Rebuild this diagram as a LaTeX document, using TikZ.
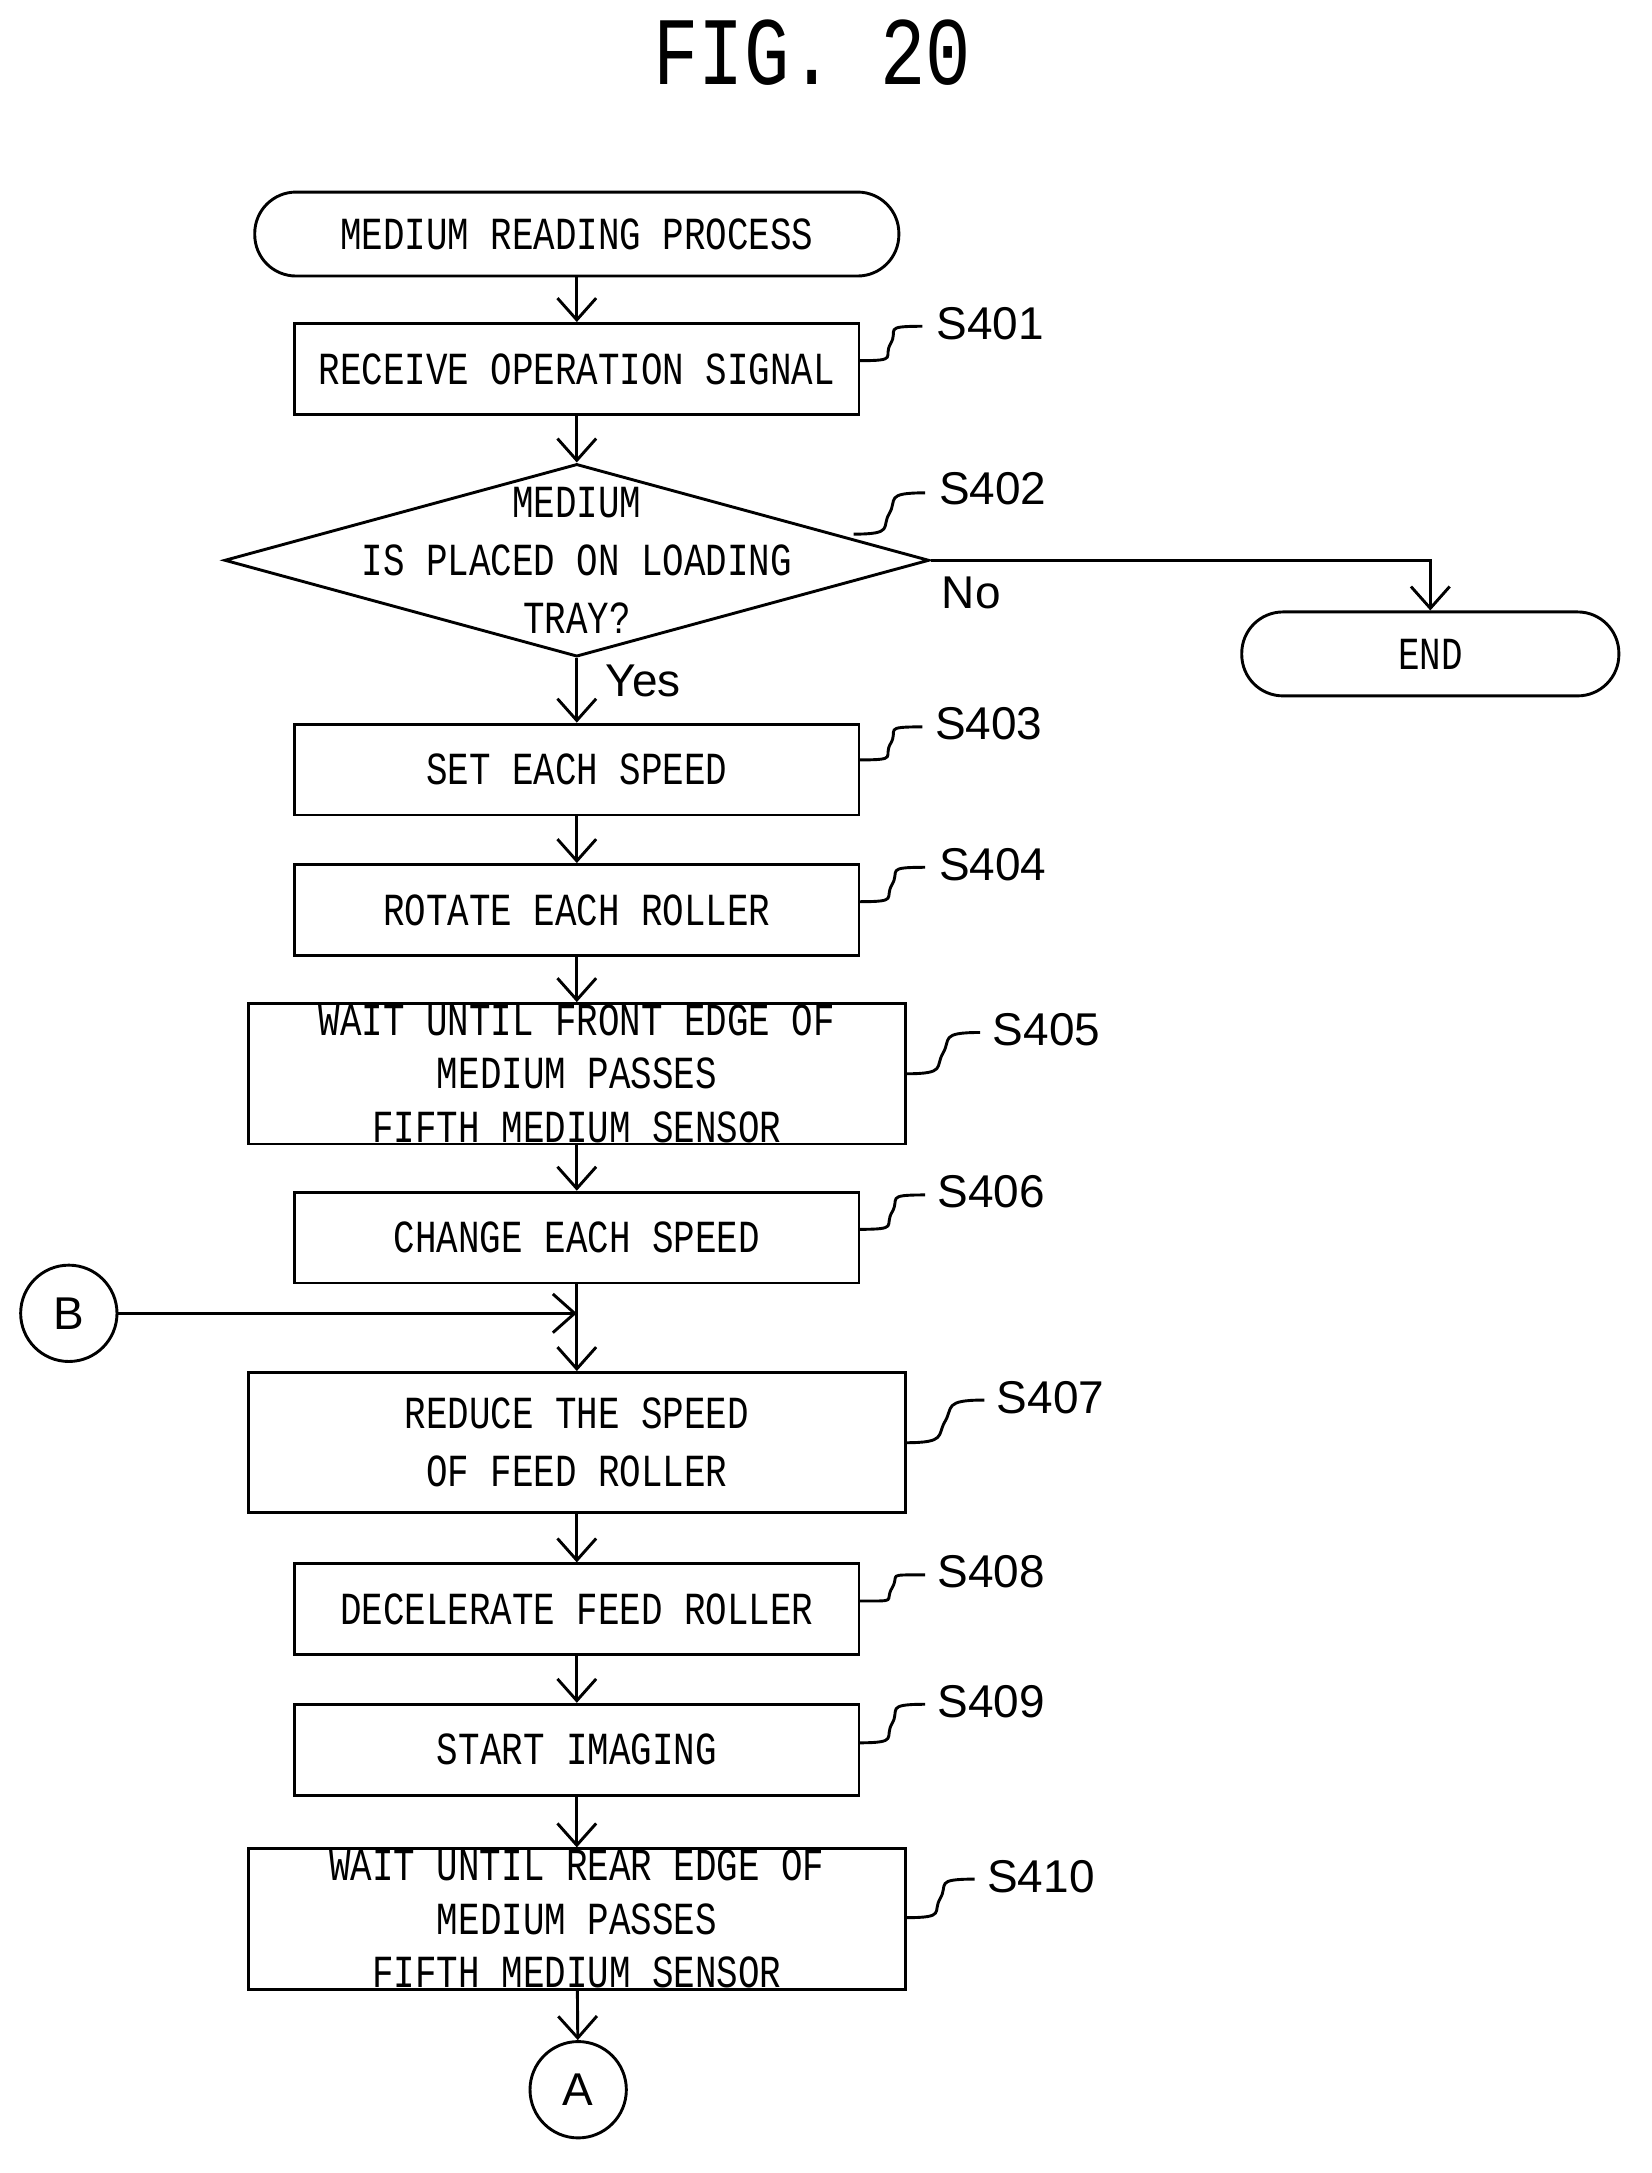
\documentclass[tikz,border=0pt]{standalone}
\usepackage{fontspec}
\setmainfont{Liberation Sans}
\newfontfamily\boxfont{Liberation Mono}[FakeStretch=0.78]
\usetikzlibrary{arrows.meta,shapes.geometric}

\tikzset{
  procbox/.style={draw,line width=1.2pt,minimum width=8.2cm,minimum height=1.32cm,inner sep=0pt,
    font=\boxfont\fontsize{19}{22}\selectfont,align=center},
  widebox/.style={procbox,minimum width=9.54cm,minimum height=2.04cm},
  term/.style={draw,line width=1.2pt,rounded corners=0.6cm,minimum height=1.22cm,
    font=\boxfont\fontsize{19}{20}\selectfont},
  conn/.style={draw,circle,line width=1.2pt,minimum size=1.4cm,inner sep=0pt,font=\fontsize{19}{20}\selectfont},
  flow/.style={line width=1.2pt,-{Straight Barb[length=9pt,width=16pt,line width=1.2pt]}},
  lab/.style={font=\fontsize{19}{20}\selectfont,anchor=west},
}
\newcommand{\squig}[2]{\draw[line width=1.2pt] #1 .. controls +(30,0) and +(-6,10) .. ($#1!0.5!#2$)
  .. controls +(6,-10) and +(-30,0) .. #2;}
\usetikzlibrary{calc}

\begin{document}
\begin{tikzpicture}[x=0.02cm,y=-0.02cm]
\useasboundingbox (0,0) rectangle (1200,1578.5);

\node[font=\boxfont\fontsize{40}{40}\selectfont] at (590,38) {FIG. 20};

\node[term,minimum width=9.36cm] (start) at (419,170) {MEDIUM READING PROCESS};
\node[procbox] (s401) at (419,268) {RECEIVE OPERATION SIGNAL};
\node[draw,diamond,line width=1.2pt,minimum width=10.24cm,minimum height=2.8cm,inner sep=0pt,aspect=3.66] (s402) at (419,407) {};
\node[font=\boxfont\fontsize{19}{22}\selectfont,align=center] at (419,407) {MEDIUM\\[2pt]IS PLACED ON LOADING\\[2pt]TRAY?};
\node[term,minimum width=5.48cm] (end) at (1039,475) {END};
\node[procbox] (s403) at (419,559) {SET EACH SPEED};
\node[procbox] (s404) at (419,661) {ROTATE EACH ROLLER};
\node[widebox] (s405) at (419,780) {WAIT UNTIL FRONT EDGE OF\\MEDIUM PASSES\\FIFTH MEDIUM SENSOR};
\node[procbox] (s406) at (419,899) {CHANGE EACH SPEED};
\node[conn] (b) at (50,954) {B};
\coordinate (join) at (419,954);
\node[widebox] (s407) at (419,1048) {REDUCE THE SPEED\\[2pt]OF FEED ROLLER};
\node[procbox] (s408) at (419,1169) {DECELERATE FEED ROLLER};
\node[procbox] (s409) at (419,1271) {START IMAGING};
\node[widebox] (s410) at (419,1394) {WAIT UNTIL REAR EDGE OF\\MEDIUM PASSES\\FIFTH MEDIUM SENSOR};
\node[conn] (a) at (420,1518) {A};

% connectors
\draw[flow] (start) -- (s401);
\draw[flow] (s401) -- (s402);
\draw[flow] (s402.south) -- (s403) node[pos=0.35,right=8pt,font=\fontsize{19}{20}\selectfont] {Yes};
\draw[flow] (s402.east) -| (end.north);
\node[lab] at (678,431) {No};
\draw[flow] (s403) -- (s404);
\draw[flow] (s404) -- (s405);
\draw[flow] (s405) -- (s406);
\draw[line width=1.2pt] (s406) -- (join);
\draw[flow] (b) -- (join);
\draw[flow] (join) -- (s407);
\draw[flow] (s407) -- (s408);
\draw[flow] (s408) -- (s409);
\draw[flow] (s409) -- (s410);
\draw[flow] (s410) -- (a);

% step labels
\squig{(624,262)}{(670,237)} \node[lab] at (674,235) {S401};
\squig{(620,388)}{(672,358)} \node[lab] at (676,355) {S402};
\squig{(624,552)}{(670,528)} \node[lab] at (673,526) {S403};
\squig{(624,655)}{(672,630)} \node[lab] at (676,628) {S404};
\squig{(658,780)}{(712,750)} \node[lab] at (715,748) {S405};
\squig{(624,893)}{(672,868)} \node[lab] at (675,866) {S406};
\squig{(658,1048)}{(715,1017)} \node[lab] at (718,1015) {S407};
\squig{(624,1163)}{(672,1144)} \node[lab] at (675,1142) {S408};
\squig{(624,1266)}{(672,1238)} \node[lab] at (675,1236) {S409};
\squig{(658,1393)}{(708,1365)} \node[lab] at (711,1363) {S410};
\end{tikzpicture}
\end{document}
